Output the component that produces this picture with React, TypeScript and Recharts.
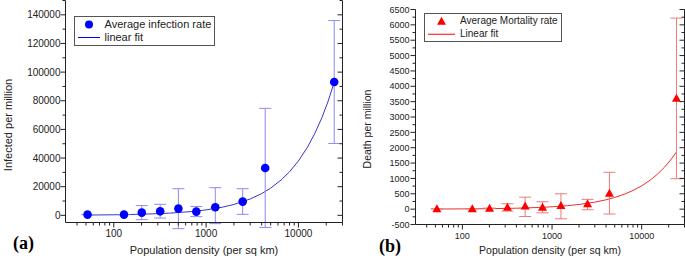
import React from 'react';
import { ComposedChart, Scatter, Line, XAxis, YAxis, ErrorBar, Legend } from 'recharts';

// population density bins (per sq km)
const DENSITY = [52, 129, 201, 318, 501, 783, 1257, 2490, 4365, 24400];

// (a) infections per million, with error bar ends
const INFECTED = [500, 500, 1900, 2800, 4700, 2600, 5600, 9600, 33100, 93100];
const INFECTED_HI = [500, 500, 6800, 7700, 18600, 6200, 19300, 18600, 74700, 136000];
const INFECTED_LO = [500, 500, -3000, -1900, -9300, -900, -5800, 700, -8500, 50200];

// (b) deaths per million, with error bar ends
const DEATHS = [10, 10, 30, 65, 100, 65, 120, 175, 520, 3610];
const DEATHS_HI = [10, 10, 30, 175, 390, 240, 500, 320, 1200, 6220];
const DEATHS_LO = [10, 10, 30, -65, -240, -120, -315, -20, -160, 990];

// fitted curves
const FIT_X = [52, 100, 200, 400, 700, 1000, 1500, 2000, 3000, 4000, 5000, 6500, 8000, 10000, 12500, 15000, 18000, 21000, 24400];
const INFECTED_FIT = [200, 380, 760, 1520, 2660, 3800, 5700, 7600, 11400, 15200, 19000, 24700, 30400, 38000, 47500, 57000, 68400, 79800, 93000];
const DEATHS_FIT = [4, 8, 15, 30, 53, 76, 114, 152, 228, 304, 380, 494, 608, 760, 950, 1140, 1370, 1600, 1860];

const X_TICKS = [40, 50, 60, 70, 80, 90, 100, 200, 300, 400, 500, 600, 700, 800, 900, 1000, 2000, 3000, 4000, 5000, 6000, 7000, 8000, 9000, 10000, 20000, 30000];
const X_MAJOR = [100, 1000, 10000];
const INFECTED_TICKS = [0, 10000, 20000, 30000, 40000, 50000, 60000, 70000, 80000, 90000, 100000, 110000, 120000, 130000, 140000, 150000];
const DEATHS_TICKS = [-500, -250, 0, 250, 500, 750, 1000, 1250, 1500, 1750, 2000, 2250, 2500, 2750, 3000, 3250, 3500, 3750, 4000, 4250, 4500, 4750, 5000, 5250, 5500, 5750, 6000, 6250, 6500];

const FONT = 'Arial, Helvetica, sans-serif';
const INK = '#222';

const makeXTick = (showLabel: boolean, fontSize: number, labelDy: number) => (props: any) => {
  const { x, y, payload } = props;
  const major = X_MAJOR.includes(payload.value);
  return (
    <g>
      <line x1={x} y1={y} x2={x} y2={y + (major ? 5 : 3)} stroke={INK} />
      {showLabel && major && (
        <text x={x} y={y + labelDy} textAnchor="middle" fontSize={fontSize} fontFamily={FONT} fill={INK}>
          {payload.value}
        </text>
      )}
    </g>
  );
};

const makeYTick = (showLabel: boolean, majorStep: number, fontSize: number, labelDx: number) => (props: any) => {
  const { x, y, payload } = props;
  const major = payload.value % majorStep === 0;
  return (
    <g>
      <line x1={x} y1={y} x2={x - (major ? 5 : 3)} y2={y} stroke={INK} />
      {showLabel && major && (
        <text x={x - labelDx} y={y + fontSize * 0.35} textAnchor="end" fontSize={fontSize} fontFamily={FONT} fill={INK}>
          {payload.value}
        </text>
      )}
    </g>
  );
};

const LegendBox = ({ color, marker, pointLabel, fitLabel, fontSize, rowH, lineW }: any) => (
  <div style={{ border: '1px solid #555', background: '#fff', padding: '1px 3px 1px 3px', fontFamily: FONT, fontSize, color: INK, lineHeight: `${rowH}px`, whiteSpace: 'nowrap' }}>
    <div style={{ display: 'flex', alignItems: 'center', height: rowH }}>
      <svg width={lineW} height={rowH} style={{ marginRight: 5, flex: 'none' }}>
        {marker === 'circle' ? (
          <circle cx={lineW / 2} cy={rowH / 2} r={4} fill={color} />
        ) : (
          <polygon points={`${lineW / 2 - 4.5},${rowH / 2 + 3.5} ${lineW / 2 + 4.5},${rowH / 2 + 3.5} ${lineW / 2},${rowH / 2 - 4.5}`} fill={color} />
        )}
      </svg>
      <span>{pointLabel}</span>
    </div>
    <div style={{ display: 'flex', alignItems: 'center', height: rowH }}>
      <svg width={lineW} height={rowH} style={{ marginRight: 5, flex: 'none' }}>
        <line x1={0} y1={rowH / 2} x2={lineW} y2={rowH / 2} stroke={color} />
      </svg>
      <span>{fitLabel}</span>
    </div>
  </div>
);

const Panel = ({ width, height, margin, leftW, rightW, bottomH, yDomain, yTicks, yMajor, rows, fit, color, lineColor, barColor, marker, yTitle, yTitleX, yTitleY, xTitleY, tag, tagX, tagY, legendPos, legend, tickFont, titleFont, yLabelDx, xLabelDy }: any) => {
  const plotL = leftW;
  const plotR = width - rightW;
  const shape = (p: any) =>
    marker === 'circle' ? (
      <circle cx={p.cx} cy={p.cy} r={4.3} fill={color} />
    ) : (
      <polygon points={`${p.cx - 4.5},${p.cy + 3.5} ${p.cx + 4.5},${p.cy + 3.5} ${p.cx},${p.cy - 4.5}`} fill={color} />
    );
  return (
    <ComposedChart width={width} height={height} margin={margin}>
      <XAxis
        dataKey="x"
        type="number"
        scale="log"
        domain={[30, 30000]}
        ticks={X_TICKS}
        interval={0}
        height={bottomH}
        tickSize={0}
        tickMargin={0}
        tick={makeXTick(true, tickFont, xLabelDy)}
        axisLine={{ stroke: INK }}
        allowDataOverflow
        label={{
          content: () => (
            <g>
              <text x={(plotL + plotR) / 2} y={xTitleY} textAnchor="middle" fontSize={titleFont} fontFamily={FONT} fill={INK}>
                Population density (per sq km)
              </text>
              <text x={tagX} y={tagY} fontSize={18} fontWeight="bold" fontFamily='"Liberation Serif", "Times New Roman", serif' fill="#000">
                {tag}
              </text>
            </g>
          ),
        }}
      />
      <XAxis
        xAxisId="top"
        orientation="top"
        dataKey="x"
        type="number"
        scale="log"
        domain={[30, 30000]}
        ticks={X_TICKS}
        interval={0}
        height={0}
        tickSize={0}
        tickMargin={0}
        tick={makeXTick(false, tickFont, xLabelDy)}
        axisLine={{ stroke: INK }}
        allowDataOverflow
      />
      <YAxis
        type="number"
        domain={yDomain}
        ticks={yTicks}
        interval={0}
        width={leftW}
        tickSize={0}
        tickMargin={0}
        tick={makeYTick(true, yMajor, tickFont, yLabelDx)}
        axisLine={{ stroke: INK }}
        allowDataOverflow
        label={{
          content: () => (
            <text x={yTitleX} y={yTitleY} transform={`rotate(-90 ${yTitleX} ${yTitleY})`} textAnchor="middle" fontSize={titleFont} fontFamily={FONT} fill={INK}>
              {yTitle}
            </text>
          ),
        }}
      />
      <YAxis
        yAxisId="right"
        orientation="right"
        type="number"
        domain={yDomain}
        ticks={yTicks}
        interval={0}
        width={rightW}
        tickSize={0}
        tickMargin={0}
        tick={makeYTick(false, yMajor, tickFont, yLabelDx)}
        axisLine={{ stroke: INK }}
        allowDataOverflow
      />
      <Line data={fit} dataKey="y" type="linear" stroke={lineColor} strokeWidth={1} dot={false} isAnimationActive={false} />
      <Scatter data={rows} dataKey="y" shape={shape} isAnimationActive={false}>
        <ErrorBar dataKey="err" direction="y" width={6} stroke={barColor} strokeWidth={1} isAnimationActive={false} />
      </Scatter>
      <Legend
        layout="vertical"
        verticalAlign="middle"
        align="center"
        wrapperStyle={{ top: legendPos.top, left: legendPos.left, width: 'auto', height: 'auto' }}
        content={() => <LegendBox {...legend} color={color} marker={marker} />}
      />
    </ComposedChart>
  );
};

const App = () => {
  const infectedRows = DENSITY.map((x, i) => ({ x, y: INFECTED[i], err: [INFECTED[i] - INFECTED_LO[i], INFECTED_HI[i] - INFECTED[i]] }));
  const deathRows = DENSITY.map((x, i) => ({ x, y: DEATHS[i], err: [DEATHS[i] - DEATHS_LO[i], DEATHS_HI[i] - DEATHS[i]] }));
  const infectedFit = FIT_X.map((x, i) => ({ x, y: INFECTED_FIT[i] }));
  const deathFit = FIT_X.map((x, i) => ({ x, y: DEATHS_FIT[i] }));

  return (
    <div style={{ position: 'absolute', left: 0, top: 0, width: 685, height: 265, background: '#fff' }}>
      <div style={{ position: 'absolute', left: 0, top: 0 }}>
        <Panel
          width={345}
          height={265}
          margin={{ top: 0.5, right: 0, bottom: 0, left: 0 }}
          leftW={65.5}
          rightW={2.5}
          bottomH={42.5}
          yDomain={[-5000, 150000]}
          yTicks={INFECTED_TICKS}
          yMajor={20000}
          rows={infectedRows}
          fit={infectedFit}
          color="#0000ff"
          lineColor="#3535d0"
          barColor="#8c8cf0"
          marker="circle"
          yTitle="Infected per million"
          yTitleX={11.5}
          yTitleY={125}
          xTitleY={254}
          tag="(a)"
          tagX={13}
          tagY={249}
          legendPos={{ top: 15.5, left: 73.5 }}
          legend={{ pointLabel: 'Average infection rate', fitLabel: 'linear fit', fontSize: 11, rowH: 13, lineW: 22 }}
          tickFont={10}
          titleFont={11}
          yLabelDx={5}
          xLabelDy={14.5}
        />
      </div>
      <div style={{ position: 'absolute', left: 345, top: 0 }}>
        <Panel
          width={340}
          height={265}
          margin={{ top: 9.5, right: 0, bottom: 0, left: 0 }}
          leftW={70.5}
          rightW={0.5}
          bottomH={40.5}
          yDomain={[-500, 6500]}
          yTicks={DEATHS_TICKS}
          yMajor={500}
          rows={deathRows}
          fit={deathFit}
          color="#ff0000"
          lineColor="#e83030"
          barColor="#ee7a7a"
          marker="triangle"
          yTitle="Death per million"
          yTitleX={26}
          yTitleY={129}
          xTitleY={254}
          tag="(b)"
          tagX={34}
          tagY={252}
          legendPos={{ top: 13, left: 79 }}
          legend={{ pointLabel: 'Average Mortality rate', fitLabel: 'Linear fit', fontSize: 10, rowH: 12.5, lineW: 27 }}
          tickFont={9}
          titleFont={10.5}
          yLabelDx={6}
          xLabelDy={14}
        />
      </div>
    </div>
  );
};

export default App;
